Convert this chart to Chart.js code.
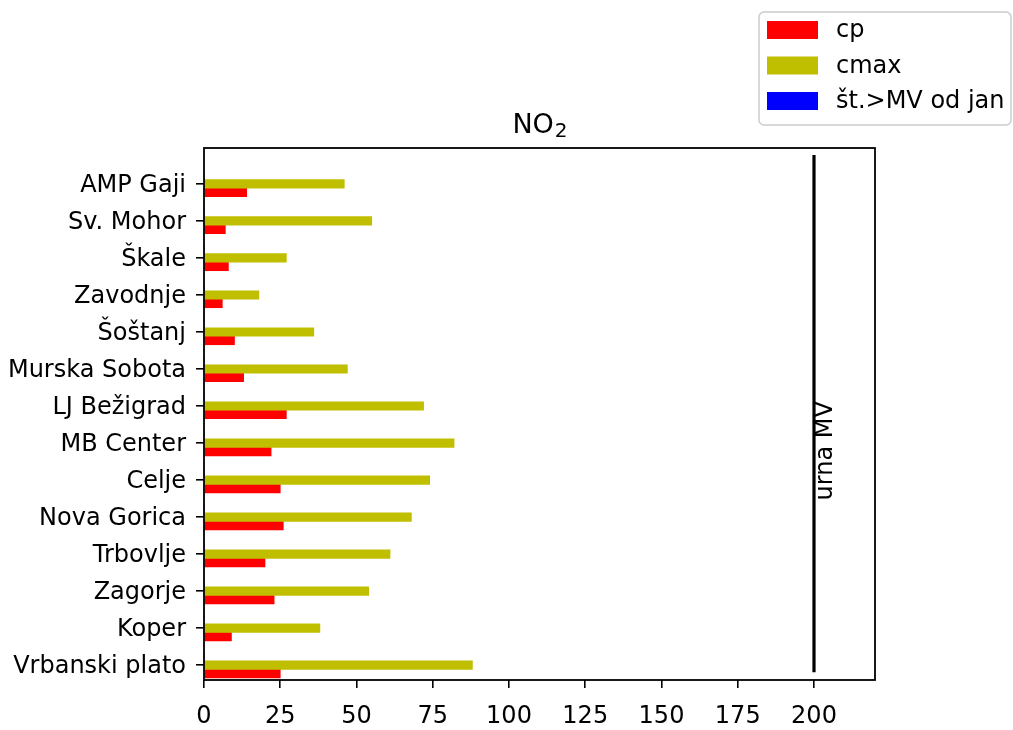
<!DOCTYPE html>
<html>
<head>
<meta charset="utf-8">
<script src="https://cdn.jsdelivr.net/npm/chart.js@4.4.0/dist/chart.umd.min.js"></script>
<style>
  html, body { margin: 0; padding: 0; background: #fff; }
  #wrap { width: 1013px; height: 730px; position: relative; }
</style>
</head>
<body>
<div id="wrap"><canvas id="chart"></canvas></div>
<script>
// ── data: stations top → bottom, as on the y axis ──
const stations = ['AMP Gaji', 'Sv. Mohor', 'Škale', 'Zavodnje', 'Šoštanj', 'Murska Sobota',
  'LJ Bežigrad', 'MB Center', 'Celje', 'Nova Gorica', 'Trbovlje', 'Zagorje', 'Koper', 'Vrbanski plato'];
const cp     = [14, 7, 8, 6, 10, 13, 27, 22, 25, 26, 20, 23, 9, 25];
const cmax   = [46, 55, 27, 18, 36, 47, 72, 82, 74, 68, 61, 54, 38, 88];
const exceed = [0, 0, 0, 0, 0, 0, 0, 0, 0, 0, 0, 0, 0, 0];
const xTicks = [0, 25, 50, 75, 100, 125, 150, 175, 200];
const mvLimit = 200;
const mvLabel = 'urna MV';

const FONT = 'DejaVu Sans';
const FS = 24;

Chart.defaults.font.family = FONT;
Chart.defaults.font.size = FS;
Chart.defaults.color = '#000';

const toPts = arr => arr.map((v, i) => ({ x: v, y: i }));

// ── plugin: full box frame (matplotlib spines) ──
const framePlugin = {
  id: 'frame',
  afterDraw(chart) {
    const { ctx, chartArea: a } = chart;
    ctx.save();
    ctx.strokeStyle = '#000';
    ctx.lineWidth = 1.8;
    ctx.strokeRect(a.left, a.top, a.right - a.left, a.bottom - a.top);
    ctx.restore();
  },
};

// ── plugin: limit line + rotated label ──
const mvPlugin = {
  id: 'mvLine',
  afterDatasetsDraw(chart) {
    const { ctx } = chart;
    const xs = chart.scales.x, ys = chart.scales.y;
    const x = xs.getPixelForValue(mvLimit);
    ctx.save();
    ctx.strokeStyle = '#000';
    ctx.lineWidth = 3.2;
    ctx.beginPath();
    ctx.moveTo(x, ys.getPixelForValue(-0.78));
    ctx.lineTo(x, ys.getPixelForValue(13.19));
    ctx.stroke();

    ctx.translate(x + 18, ys.getPixelForValue(8.55));
    ctx.rotate(-Math.PI / 2);
    ctx.font = `${FS}px '${FONT}'`;
    ctx.fillStyle = '#000';
    ctx.textAlign = 'left';
    ctx.textBaseline = 'alphabetic';
    ctx.fillText(mvLabel, 0, 0);
    ctx.restore();
  },
};

// ── plugin: title NO2 with subscript, centred on plot ──
const titlePlugin = {
  id: 'no2Title',
  afterDraw(chart) {
    const { ctx, chartArea: a } = chart;
    const big = 27, small = 20;
    ctx.save();
    ctx.fillStyle = '#000';
    ctx.textBaseline = 'alphabetic';
    ctx.font = `${big}px '${FONT}'`;
    const w1 = ctx.measureText('NO').width;
    ctx.font = `${small}px '${FONT}'`;
    const w2 = ctx.measureText('2').width;
    const x0 = (a.left + a.right) / 2 - (w1 + w2) / 2;
    const base = a.top - 15;
    ctx.font = `${big}px '${FONT}'`;
    ctx.fillText('NO', x0, base);
    ctx.font = `${small}px '${FONT}'`;
    ctx.fillText('2', x0 + w1 + 1, base + 4);
    ctx.restore();
  },
};

// ── plugin: legend box outside the axes, top right ──
const legendPlugin = {
  id: 'boxLegend',
  afterDraw(chart) {
    const { ctx } = chart;
    const items = chart.data.datasets.slice().reverse();
    const left = 759, top = 12, right = chart.width - 2, bottom = 125, rowH = 35.5;
    ctx.save();
    ctx.fillStyle = 'rgba(255,255,255,0.8)';
    ctx.strokeStyle = '#cccccc';
    ctx.lineWidth = 1.5;
    ctx.beginPath();
    ctx.roundRect(left, top, right - left, bottom - top, 5);
    ctx.fill();
    ctx.stroke();
    ctx.font = `${FS}px '${FONT}'`;
    ctx.textBaseline = 'middle';
    ctx.textAlign = 'left';
    items.forEach((ds, i) => {
      const cy = top + 18 + i * rowH;
      ctx.fillStyle = ds.backgroundColor;
      ctx.fillRect(left + 8, cy - 9, 51, 18);
      ctx.fillStyle = '#000';
      ctx.fillText(ds.label, left + 77, cy + 1);
    });
    ctx.restore();
  },
};

const tickStyle = { color: '#000', lineWidth: 1.6, tickLength: 8, drawOnChartArea: false, drawTicks: true, offset: false };

new Chart(document.getElementById('chart'), {
  type: 'bar',
  data: {
    datasets: [
      { label: 'št.>MV od jan', data: toPts(exceed), backgroundColor: '#0000ff' },
      { label: 'cmax', data: toPts(cmax), backgroundColor: '#bfbf00' },
      { label: 'cp', data: toPts(cp), backgroundColor: '#ff0000' },
    ],
  },
  plugins: [mvPlugin, framePlugin, titlePlugin, legendPlugin],
  options: {
    indexAxis: 'y',
    responsive: true,
    maintainAspectRatio: false,
    animation: false,
    layout: { padding: { top: 148, right: 138, left: 0, bottom: 0 } },
    datasets: { bar: { barThickness: 8.5, borderWidth: 0 } },
    plugins: {
      legend: { display: false },
      title: { display: false },
      tooltip: { enabled: false },
    },
    scales: {
      x: {
        type: 'linear',
        min: 0,
        max: 220,
        offset: false,
        grid: tickStyle,
        border: { display: false },
        afterBuildTicks: s => { s.ticks = xTicks.map(v => ({ value: v })); },
        afterFit: s => { s.height = 50; },
        ticks: { padding: 14, maxRotation: 0, autoSkip: false },
      },
      y: {
        type: 'linear',
        reverse: true,
        min: -0.97,
        max: 13.4,
        offset: false,
        grid: tickStyle,
        border: { display: false },
        afterBuildTicks: s => { s.ticks = stations.map((_, i) => ({ value: i })); },
        afterFit: s => { s.width = 204; },
        ticks: { padding: 10, labelOffset: 2, autoSkip: false, callback: v => stations[v] },
      },
    },
  },
});
</script>
</body>
</html>
